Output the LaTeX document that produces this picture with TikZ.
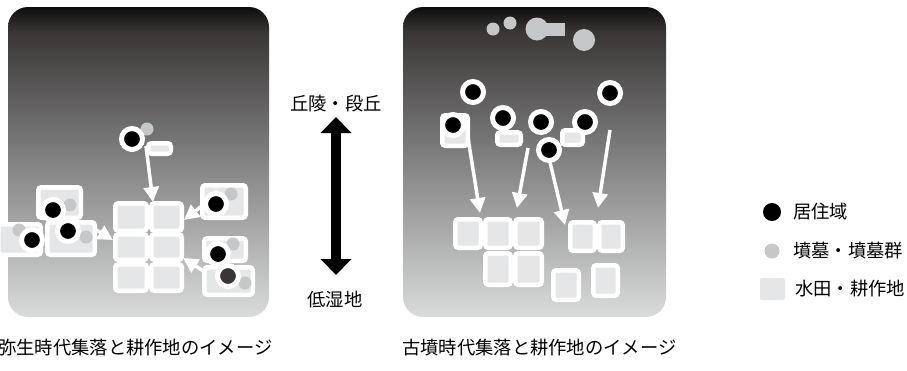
\documentclass[tikz,border=0pt]{standalone}
\usepackage{fontspec}
\setmainfont{Noto Sans CJK JP}
\usetikzlibrary{arrows.meta}
\definecolor{dotgray}{HTML}{C6C7C9}
\definecolor{fieldgray}{HTML}{E5E6E7}
\definecolor{darkdot}{HTML}{3A3536}
\definecolor{shTop}{HTML}{0E0C0C}
\definecolor{shUp}{HTML}{3A3636}
\definecolor{shMid}{HTML}{838383}
\definecolor{shBot}{HTML}{DADBDB}
\pgfdeclareverticalshading{panelshade}{100bp}{color(0bp)=(shBot); color(25bp)=(shBot); color(50bp)=(shMid); color(71bp)=(shUp); color(75bp)=(shTop); color(100bp)=(shTop)}
\newcommand\fld[4]{\draw[field] ({#1+2.25},{#2+2.25}) rectangle ({#3-2.25},{#4-2.25});}
\begin{document}
\begin{tikzpicture}[x=1pt,y=-1pt,
  field/.style={draw=white, line width=4.5pt, fill=fieldgray, rounded corners=3pt},
  ring/.style={circle, inner sep=0pt, minimum size=21pt, fill=black, draw=white, line width=5pt},
  darkring/.style={ring, fill=darkdot},
  grave/.style={circle, inner sep=0pt, minimum size=13pt, fill=dotgray},
  conn/.style={draw=white, line width=3.5pt, -{Triangle[width=15pt,length=15pt]}},
  lbl/.style={inner sep=0pt, font=\fontsize{18.3pt}{22pt}\selectfont},
  panel/.style={shading=panelshade, rounded corners=20pt}
]
\useasboundingbox (0,0) rectangle (907,370);
% ---------- left panel ----------
\path[panel] (8,7) rectangle (269,317);
\fld{113}{201}{149}{233}\fld{149}{201}{184}{233}
\fld{113}{232}{149}{262}\fld{149}{232}{184}{262}
\fld{113}{262}{149}{293}\fld{149}{262}{184}{293}
\coordinate (la1) at (146,146); \coordinate (la1e) at (153,202);
\coordinate (la2) at (88,225);  \coordinate (la2e) at (113,240);
\coordinate (la3) at (208,201); \coordinate (la3e) at (184,220);
\coordinate (la4) at (208,274); \coordinate (la4e) at (183,258);
\draw[conn] (la1) -- (la1e);
\draw[conn] (la2) -- (la2e);
\draw[conn] (la3) -- (la3e);
\draw[conn] (la4) -- (la4e);
\fld{146}{141}{173}{156}
\fld{36}{185}{83}{220}
\fld{45}{220}{97}{257}
\fld{-4}{222}{43}{257}
\fld{200}{183}{248}{220}
\fld{202}{236}{248}{263}
\fld{202}{265}{255}{297}
\node[grave] (lg1) at (147,129) {};
\node[grave] (lg2) at (70,205) {};
\node[grave] (lg3) at (86,237) {};
\node[grave] (lg4) at (19,230) {};
\node[grave] (lg5) at (231,194) {};
\node[grave] (lg6) at (233,244) {};
\node[grave] (lg7) at (245,283) {};
\node[ring] (ld1) at (132,139) {};
\node[ring] (ld2) at (53,210) {};
\node[ring] (ld3) at (68,231) {};
\node[ring] (ld4) at (32,240) {};
\node[ring] (ld5) at (216,204) {};
\node[ring] (ld6) at (218,254) {};
\node[darkring] (ld7) at (228,276) {};
% ---------- right panel ----------
\path[panel] (403,7) rectangle (666,317);
\node[grave] (rg1) at (493,29) {};
\node[grave] (rg2) at (510,23) {};
\fill[dotgray] (540,23) rectangle (565,36);
\node[grave, minimum size=23pt] (rg3) at (537,29) {};
\node[grave, minimum size=22pt] (rg4) at (584,40) {};
\fld{453}{217}{483}{250}\fld{483}{217}{513}{250}\fld{513}{217}{544}{250}
\fld{483}{251}{513}{287}\fld{513}{251}{544}{287}
\fld{568}{220}{597}{253}\fld{597}{220}{625}{253}
\fld{551}{268}{581}{302}
\fld{591}{263}{620}{298}
\coordinate (ra1) at (468,138); \coordinate (ra1e) at (480,213);
\coordinate (ra2) at (528,148); \coordinate (ra2e) at (517,208);
\coordinate (ra3) at (549,158); \coordinate (ra3e) at (565,225);
\coordinate (ra4) at (610,130); \coordinate (ra4e) at (598,208);
\draw[conn] (ra1) -- (ra1e);
\draw[conn] (ra2) -- (ra2e);
\draw[conn] (ra3) -- (ra3e);
\draw[conn] (ra4) -- (ra4e);
\fld{440}{113}{470}{148}
\fld{495}{130}{523}{147}
\fld{560}{128}{585}{147}
\node[ring] (rd1) at (473,92) {};
\node[ring] (rd2) at (610,93) {};
\node[ring] (rd3) at (453,125) {};
\node[ring] (rd4) at (503,118) {};
\node[ring] (rd5) at (541,122) {};
\node[ring] (rd6) at (585,122) {};
\node[ring] (rd7) at (549,150) {};
% ---------- middle ----------
\node[lbl] (hill) at (336,104) {丘陵・段丘};
\node[lbl] (low) at (335,300) {低湿地};
\coordinate (mt) at (336,117);
\coordinate (mb) at (336,275);
\draw[line width=10pt, {Triangle[width=30pt,length=16pt]}-{Triangle[width=30pt,length=16pt]}] (mt) -- (mb);
% ---------- legend ----------
\node[circle, inner sep=0pt, minimum size=18pt, fill=black] (lk1) at (772,212) {};
\node[circle, inner sep=0pt, minimum size=15pt, fill=dotgray] (lk2) at (772,251) {};
\fill[fieldgray, rounded corners=2pt] (760,278) rectangle (785,300);
\node[lbl, anchor=west] (lt1) at (793,212) {居住域};
\node[lbl, anchor=west] (lt2) at (793,251) {墳墓・墳墓群};
\node[lbl, anchor=west] (lt3) at (795,289) {水田・耕作地};
% ---------- captions ----------
\node[lbl, anchor=west] (cap1) at (-2,348) {弥生時代集落と耕作地のイメージ};
\node[lbl, anchor=west] (cap2) at (402,348) {古墳時代集落と耕作地のイメージ};
\end{tikzpicture}
\end{document}
